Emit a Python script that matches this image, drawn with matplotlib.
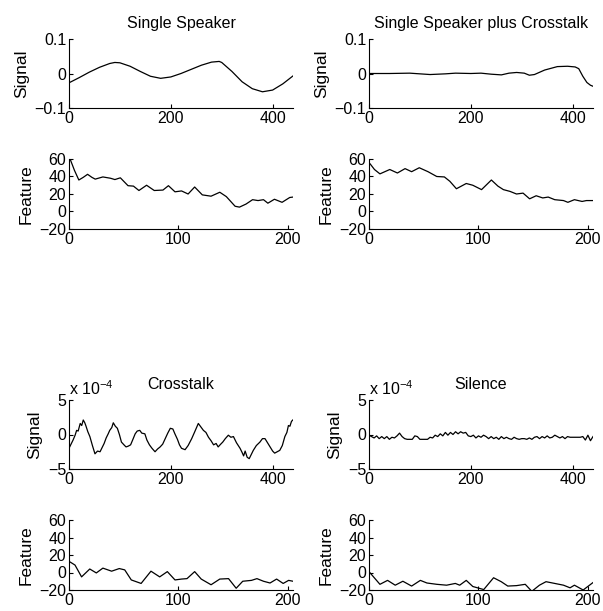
import numpy as np
import matplotlib
matplotlib.use("Agg")
import matplotlib.pyplot as plt

plt.rcParams['font.family'] = ['Liberation Sans', 'DejaVu Sans']
plt.rcParams['font.size'] = 11.5
plt.rcParams['mathtext.fontset'] = 'custom'
plt.rcParams['mathtext.rm'] = 'Liberation Sans'

titles = ["Single Speaker", "Single Speaker plus Crosstalk", "Crosstalk", "Silence"]

# signal traces
sig_ss_x = [0, 20, 40, 60, 80, 90, 100, 120, 140, 160, 180, 200, 220, 240, 260, 280,
            295, 300, 320, 340, 360, 380, 400, 420, 440]
sig_ss_y = [-0.027, -0.012, 0.004, 0.018, 0.029, 0.032, 0.031, 0.021, 0.006, -0.008,
            -0.014, -0.010, 0.000, 0.012, 0.024, 0.033, 0.035, 0.032, 0.006, -0.024,
            -0.044, -0.053, -0.048, -0.030, -0.007]

sig_sc_x = [0, 40, 80, 120, 150, 170, 200, 220, 240, 260, 275, 290, 305, 315, 325, 345,
            370, 390, 405, 412, 420, 428, 435, 440]
sig_sc_y = [0.000, 0.000, 0.001, -0.003, -0.001, 0.001, 0.000, 0.001, -0.002, -0.004,
            0.001, 0.003, 0.001, -0.005, -0.003, 0.010, 0.020, 0.021, 0.019, 0.014,
            -0.008, -0.026, -0.034, -0.037]

sig_ct_x = [0, 4, 8, 12, 15, 18, 22, 25, 28, 31, 33, 37, 41, 46, 51, 56, 61, 65, 69, 73,
            77, 80, 84, 87, 91, 95, 99, 103, 108, 112, 116, 121, 125, 130, 134, 139, 143,
            149, 153, 158, 163, 169, 174, 179, 184, 189, 194, 199, 204, 208, 213, 217, 221,
            228, 234, 241, 247, 254, 259, 264, 269, 274, 279, 284, 289, 293, 298, 302, 307,
            313, 318, 323, 329, 336, 340, 343, 346, 350, 354, 358, 362, 368, 375, 380, 385,
            390, 395, 400, 404, 409, 414, 419, 424, 428, 431, 434, 437, 441]
sig_ct_y = [-2.0, -1.4, -0.8, -0.1, 0.6, 0.5, 1.6, 1.3, 2.1, 1.7, 1.3, 0.4, -0.3, -1.6,
            -2.8, -2.4, -2.5, -1.9, -1.3, -0.5, 0.1, 0.6, 1.0, 1.7, 1.2, 0.9, 0.0, -1.1,
            -1.5, -1.8, -1.7, -1.5, -0.8, 0.1, 0.5, 0.6, 0.2, 0.1, -0.8, -1.5, -2.0, -2.5,
            -2.1, -1.8, -1.4, -0.6, 0.2, 0.9, 0.8, 0.1, -0.7, -1.5, -2.0, -2.2, -1.6, -0.6,
            0.4, 1.6, 1.1, 0.6, 0.3, -0.4, -0.9, -1.5, -1.3, -1.8, -1.4, -1.1, -0.6, -0.1,
            -0.4, -0.3, -1.2, -2.0, -2.6, -3.1, -2.4, -3.3, -3.5, -2.9, -2.3, -1.6, -1.1,
            -0.6, -0.6, -1.2, -1.8, -2.4, -2.7, -2.5, -2.3, -1.6, -0.3, 0.3, 1.3, 1.2, 1.9,
            2.2]

sig_si_x = [0, 5, 10, 15, 20, 25, 30, 35, 40, 45, 50, 55, 60, 65, 70, 75, 80, 85, 90, 95,
            100, 105, 110, 115, 120, 125, 130, 135, 140, 145, 150, 155, 160, 165, 170, 175,
            180, 185, 190, 195, 200, 205, 210, 215, 220, 225, 230, 235, 240, 245, 250, 255,
            260, 265, 270, 275, 280, 285, 290, 295, 300, 305, 310, 315, 320, 325, 330, 335,
            340, 345, 350, 355, 360, 365, 370, 375, 380, 385, 390, 395, 400, 405, 410, 415,
            420, 425, 430, 435, 440]
sig_si_y = [-0.1, -0.3, -0.5, -0.2, -0.6, -0.3, -0.6, -0.3, -0.7, -0.4, -0.5, -0.2, 0.2,
            -0.3, -0.6, -0.7, -0.7, -0.7, -0.2, -0.3, -0.7, -0.7, -0.7, -0.7, -0.4, -0.5,
            -0.1, -0.3, 0.1, -0.2, 0.3, -0.1, 0.3, 0.0, 0.4, 0.1, 0.4, 0.2, 0.3, -0.2,
            -0.3, -0.1, -0.5, -0.2, -0.4, -0.1, -0.3, -0.6, -0.3, -0.6, -0.4, -0.7, -0.3,
            -0.6, -0.4, -0.6, -0.7, -0.4, -0.6, -0.7, -0.6, -0.6, -0.7, -0.5, -0.7, -0.4,
            -0.3, -0.6, -0.3, -0.5, -0.2, -0.5, -0.4, -0.1, -0.3, -0.5, -0.3, -0.6, -0.3,
            -0.4, -0.4, -0.4, -0.4, -0.4, -0.3, -0.8, -0.1, -0.9, -0.3]

# feature traces
feat_ss_x = [0, 1, 5, 9, 13, 17, 21, 24, 31, 38, 42, 47, 54, 59, 64, 71, 78, 86, 91, 97,
             103, 109, 115, 122, 130, 138, 144, 152, 156, 162, 168, 173, 178, 182, 188, 195,
             202, 205]
feat_ss_y = [59, 60, 47, 36, 39, 42.5, 39, 37, 39.5, 38, 36.5, 38.5, 29.5, 29, 24, 30, 24,
             24.5, 29.5, 22.5, 23.5, 20, 28, 19, 17.5, 22, 17, 6, 5, 8.5, 13.5, 12.5, 13.5,
             9.5, 14, 10.5, 16, 16.5]

feat_sc_x = [0, 1, 5, 10, 19, 26, 33, 39, 46, 54, 62, 69, 74, 80, 89, 95, 103, 112, 118,
             123, 129, 135, 141, 147, 153, 159, 164, 170, 178, 182, 188, 195, 199, 205]
feat_sc_y = [55, 54.5, 48, 43, 48, 44, 49, 45.5, 50, 45.5, 40, 39.5, 34.5, 26, 32, 30, 25,
             36, 29, 25, 23, 20, 21, 14.5, 18, 15.5, 16.5, 13.5, 12.5, 10.5, 13.5, 11.5,
             12.5, 12.5]

feat_ct_x = [0, 1, 5.5, 11.5, 19, 25, 31, 39, 46, 51, 57, 66, 75, 83, 90, 97, 103, 108,
             115, 121, 130, 138, 146, 153, 159, 167, 172, 178, 184, 190, 196, 201, 205]
feat_ct_y = [12.5, 12, 8.5, -5, 4, -0.5, 5, 1.5, 4.5, 3, -8.5, -12.5, 1.5, -5, 1, -8.5,
             -7.5, -7, 1, -7.5, -14, -7.5, -7, -18, -10, -9, -7, -10, -12, -7.5, -12.5, -9,
             -10]

feat_si_x = [0, 10, 17, 24, 31, 39, 47, 53, 62, 71, 79, 83, 89, 95, 105, 114, 121, 127,
             135, 143, 149, 156, 162, 170, 178, 184, 188, 196, 205]
feat_si_y = [1, -13.5, -9, -14.5, -10, -15.5, -9, -12, -13.5, -14.5, -12.5, -14.5, -9,
             -16, -19.5, -6, -10.5, -15.5, -15, -13.5, -21.5, -14.5, -10.5, -12.5, -14.5,
             -17.5, -14.5, -20, -11.5]

signals = [(sig_ss_x, sig_ss_y), (sig_sc_x, sig_sc_y), (sig_ct_x, sig_ct_y), (sig_si_x, sig_si_y)]
features = [(feat_ss_x, feat_ss_y), (feat_sc_x, feat_sc_y), (feat_ct_x, feat_ct_y), (feat_si_x, feat_si_y)]

W, H = 603, 611
fig = plt.figure(figsize=(W / 100, H / 100), dpi=100)


def style(ax):
    ax.spines['top'].set_visible(False)
    ax.spines['right'].set_visible(False)
    ax.tick_params(direction='in', length=3, width=0.8, pad=2, labelsize=11.5)
    for s in ax.spines.values():
        s.set_linewidth(0.8)


lefts = [69, 369, 69, 369]
sig_tops = [39, 39, 400, 400]
feat_tops = [159, 159, 520, 520]
aw, sh, fh = 224, 69, 70

for i in range(4):
    # signal panel
    ax = fig.add_axes([lefts[i] / W, 1 - (sig_tops[i] + sh) / H, aw / W, sh / H])
    ax.plot(signals[i][0], signals[i][1], color='k', lw=0.9)
    ax.set_xlim(0, 440)
    ax.set_xticks([0, 200, 400])
    if i < 2:
        ax.set_ylim(-0.1, 0.1)
        ax.set_yticks([-0.1, 0, 0.1])
        ax.set_yticklabels(['\u22120.1', '0', '0.1'])
    else:
        ax.set_ylim(-5, 5)
        ax.set_yticks([-5, 0, 5])
        ax.set_yticklabels(['\u22125', '0', '5'])
        ax.text(0.0, 1.03, r'x 10$^{-4}$', transform=ax.transAxes, ha='left', va='bottom',
                fontsize=11.5)
    ax.set_ylabel('Signal', labelpad=4, fontsize=12.5)
    ax.set_title(titles[i], pad=8, fontsize=11.5)
    style(ax)

    # feature panel
    ax = fig.add_axes([lefts[i] / W, 1 - (feat_tops[i] + fh) / H, aw / W, fh / H])
    ax.plot(features[i][0], features[i][1], color='k', lw=0.9)
    ax.set_xlim(0, 205)
    ax.set_xticks([0, 100, 200])
    ax.set_ylim(-20, 60)
    ax.set_yticks([-20, 0, 20, 40, 60])
    ax.set_yticklabels(['\u221220', '0', '20', '40', '60'])
    ax.set_ylabel('Feature', labelpad=4, fontsize=12.5)
    style(ax)

fig.savefig('out.png', dpi=100)
